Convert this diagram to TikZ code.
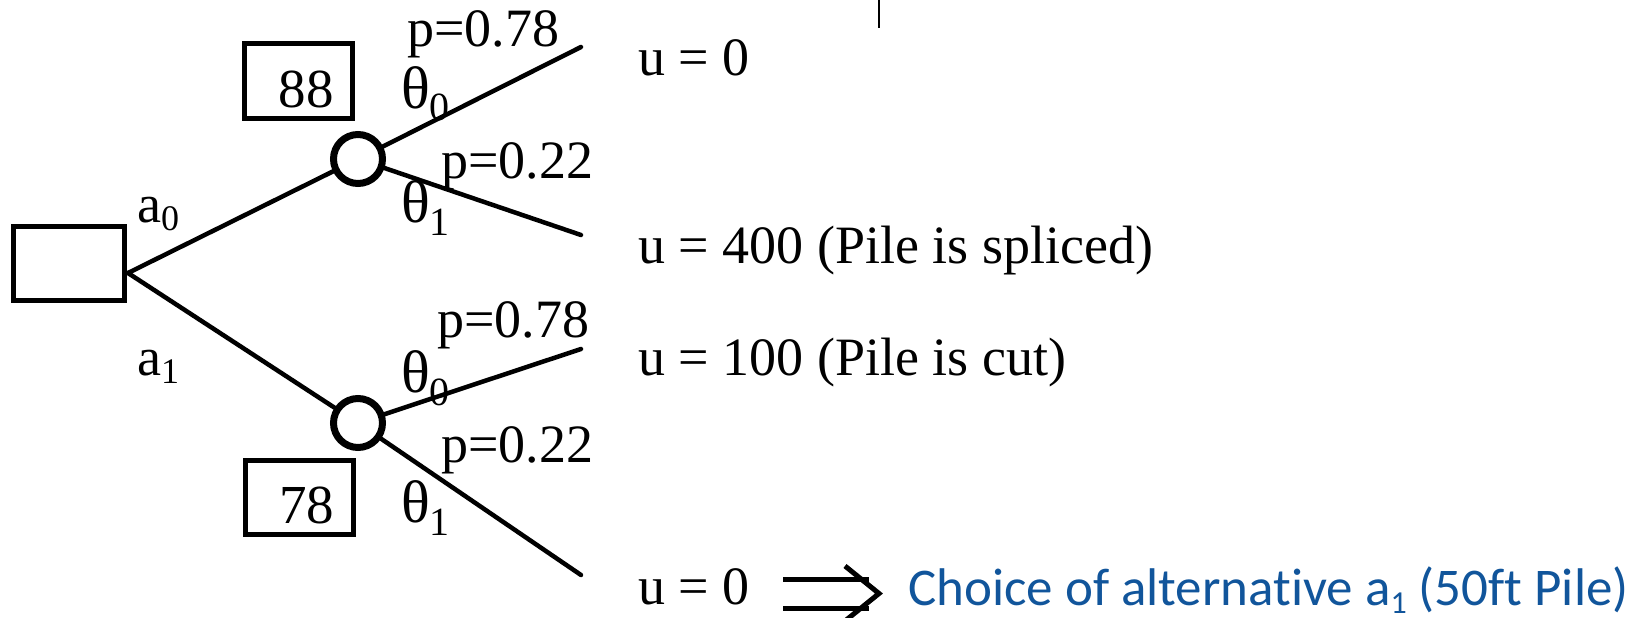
\documentclass[tikz,border=0pt]{standalone}
\usepackage{fontspec}
\setmainfont{Liberation Serif}
\newfontfamily\calfont[Ligatures={NoCommon}]{Carlito}
\definecolor{choiceblue}{RGB}{17,85,155}
\newcommand{\subdn}[3]{\raisebox{-#1}{\fontsize{#2}{#2}\selectfont #3}}
\newcommand{\thet}{{\fontsize{60}{60}\selectfont θ}}
\begin{document}
\begin{tikzpicture}[x=1pt,y=-1pt,
  lbl/.style={anchor=base west, inner sep=0pt, font=\fontsize{54}{60}\selectfont},
  branch/.style={line width=4.5pt, line cap=round},
  decbox/.style={draw, line width=5pt, inner sep=0pt},
  chance/.style={draw, circle, line width=7pt, minimum size=49pt, inner sep=0pt},
  valbox/.style={draw, line width=5pt, inner sep=0pt, minimum width=108pt, minimum height=74pt, font=\fontsize{55}{60}\selectfont},
  thick5/.style={line width=5pt}]
\useasboundingbox (0,0) rectangle (1647,618);

% decision node and chance nodes
\node[decbox, minimum width=111pt, minimum height=74pt] (D) at (69,263.5) {};
\coordinate (J) at (128,273);
\node[chance] (C0) at (358,159) {};
\node[chance] (C1) at (358,423) {};
\coordinate (E1) at (581,47);
\coordinate (E2) at (581,235);
\coordinate (E3) at (581,349);
\coordinate (E4) at (581,575);

\draw[branch] (J) -- (C0);
\draw[branch] (J) -- (C1);
\draw[branch] (C0) -- (E1);
\draw[branch] (C0) -- (E2);
\draw[branch] (C1) -- (E3);
\draw[branch] (C1) -- (E4);

% value boxes
\node[valbox] (V0) at (298.5,81) {\hspace*{15pt}\raisebox{-27pt}[0pt][0pt]{88}};
\node[valbox] (V1) at (299,497.5) {\hspace*{15pt}\raisebox{-25.5pt}[0pt][0pt]{78}};

% branch labels
\node[lbl] (la0) at (137,222) {a\subdn{8pt}{36}{0}};
\node[lbl] (la1) at (137,375) {a\subdn{8pt}{36}{1}};
\node[lbl] (pu0) at (407,47) {p=0.78};
\node[lbl] (tu0) at (401,108) {\thet\subdn{13pt}{40}{0}};
\node[lbl] (pu1) at (441,178) {p=0.22};
\node[lbl] (tu1) at (401,222) {\thet\subdn{13pt}{40}{1}};
\node[lbl] (pl0) at (437,337) {p=0.78};
\node[lbl] (tl0) at (401,392) {\thet\subdn{13pt}{40}{0}};
\node[lbl] (pl1) at (441,462) {p=0.22};
\node[lbl] (tl1) at (401,522) {\thet\subdn{13pt}{40}{1}};

% outcomes
\node[lbl] (u1) at (638,75) {u = 0};
\node[lbl] (u2) at (638,263) {u = 400 (Pile is spliced)};
\node[lbl] (u3) at (638,375) {u = 100 (Pile is cut)};
\node[lbl] (u4) at (638,604) {u = 0};
\node[anchor=base west, inner sep=0pt, text=choiceblue, font=\calfont\fontsize{53}{60}\selectfont] (ch) at (908,605) {Choice of alternative a\subdn{8pt}{32}{1} (50ft Pile)};

% implication arrow
\coordinate (AS) at (783,593.5);
\coordinate (AE) at (879,593.5);
\draw[line width=5pt, double distance=24pt] (AS) -- ([xshift=-10pt]AE);
\draw[thick5, line join=miter] ([xshift=-34pt,yshift=-27.5pt]AE) -- (AE) -- ([xshift=-34pt,yshift=27.5pt]AE);

% stray tick at top
\draw[line width=2pt] (879,0) -- (879,28);
\end{tikzpicture}
\end{document}
